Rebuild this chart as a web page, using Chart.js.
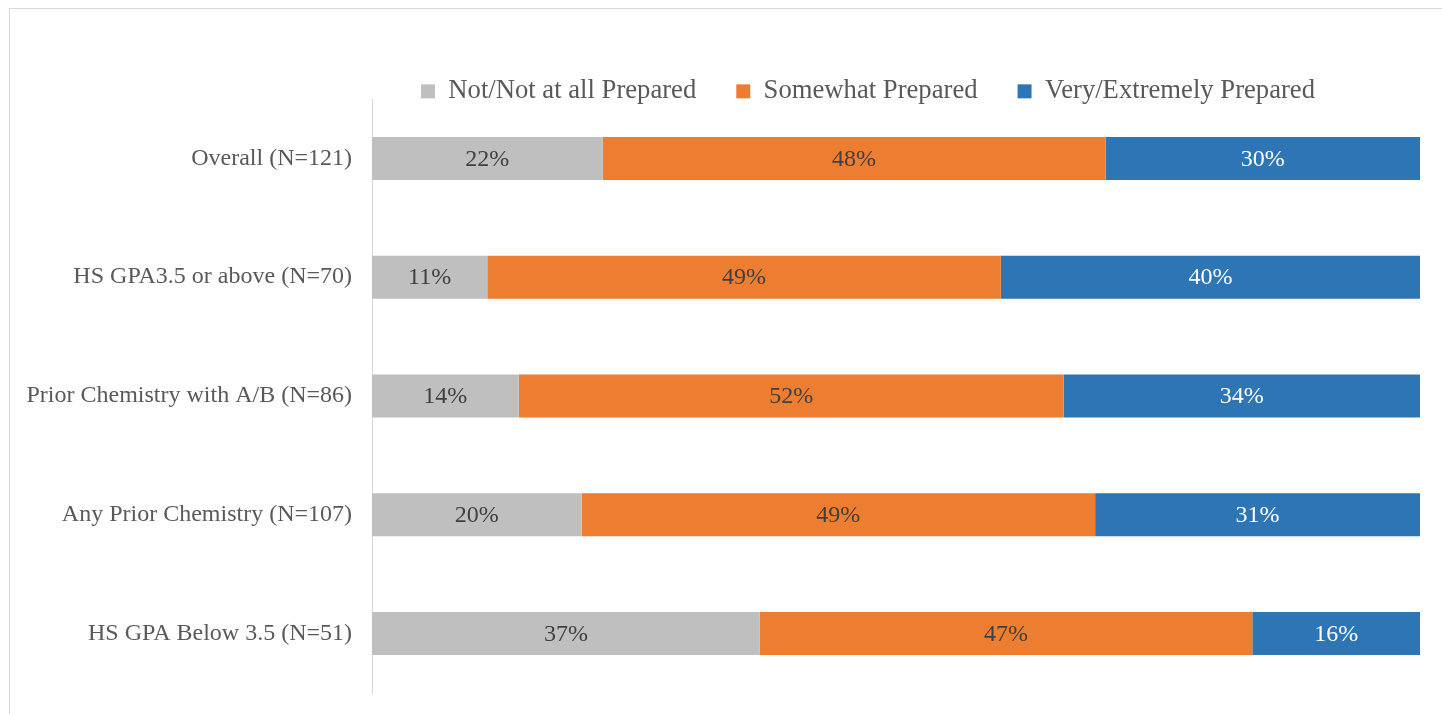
<!DOCTYPE html>
<html>
<head>
<meta charset="utf-8">
<script src="https://cdn.jsdelivr.net/npm/chart.js@4"></script>
<style>
  html, body { margin: 0; padding: 0; background: #fff; overflow: hidden; }
  #frame { position: absolute; left: 9px; top: 8px; width: 1440px; height: 714px; border: 1px solid #d9d9d9; }
  #wrap { position: absolute; left: 0; top: 0; width: 1440px; height: 714px; }
</style>
</head>
<body>
<div id="frame"><div id="wrap"><canvas id="chart"></canvas></div></div>
<script>
const categories = [
  'Overall (N=121)',
  'HS GPA3.5 or above (N=70)',
  'Prior Chemistry with A/B (N=86)',
  'Any Prior Chemistry (N=107)',
  'HS GPA Below 3.5 (N=51)'
];
const seriesNames = ['Not/Not at all Prepared', 'Somewhat Prepared', 'Very/Extremely Prepared'];
const notPrepared = [22, 11, 14, 20, 37];
const somewhatPrepared = [48, 49, 52, 49, 47];
const veryPrepared = [30, 40, 34, 31, 16];

const FONT = "'Liberation Serif', 'Times New Roman', serif";
const colors = ['#bfbfbf', '#ed7d31', '#2e75b6'];
const labelColors = ['#404040', '#404040', '#ffffff'];

// draws the percentage inside each bar segment
const barLabels = {
  id: 'barLabels',
  afterDatasetsDraw(chart) {
    const ctx = chart.ctx;
    ctx.save();
    ctx.font = '24px ' + FONT;
    ctx.textAlign = 'center';
    ctx.textBaseline = 'middle';
    chart.data.datasets.forEach((ds, i) => {
      ctx.fillStyle = labelColors[i];
      chart.getDatasetMeta(i).data.forEach((bar, j) => {
        ctx.fillText(ds.data[j] + '%', (bar.x + bar.base) / 2, bar.y + 1);
      });
    });
    ctx.restore();
  }
};

// legend: fixed height, centred where the original sits
const legendPlace = {
  id: 'legendPlace',
  beforeInit(chart) {
    const fit = chart.legend.fit;
    chart.legend.fit = function () { fit.call(this); this.height = 61; };
  },
  afterLayout(chart) {
    const lg = chart.legend;
    const w = lg.right - lg.left;
    lg.left = 858 - w / 2;
    lg.right = 858 + w / 2;
    lg.bottom = lg.top + 90; // let descenders overhang the plot top
  }
};

new Chart(document.getElementById('chart'), {
  type: 'bar',
  data: {
    labels: categories,
    datasets: [
      { label: seriesNames[0], data: notPrepared, backgroundColor: colors[0] },
      { label: seriesNames[1], data: somewhatPrepared, backgroundColor: colors[1] },
      { label: seriesNames[2], data: veryPrepared, backgroundColor: colors[2] }
    ]
  },
  options: {
    indexAxis: 'y',
    responsive: true,
    maintainAspectRatio: false,
    animation: false,
    datasets: { bar: { barPercentage: 0.362, categoryPercentage: 1 } },
    layout: { padding: { top: 29, right: 30, bottom: 30, left: 0 } },
    plugins: {
      tooltip: { enabled: false },
      legend: {
        position: 'top',
        labels: { boxWidth: 14, boxHeight: 14, padding: 40, color: '#595959', font: { family: FONT, size: 26.67 } }
      }
    },
    scales: {
      x: { stacked: true, min: 0, max: 100, display: false },
      y: {
        stacked: true,
        grid: { display: false },
        border: { display: true, color: '#d9d9d9', width: 1 },
        ticks: { color: '#595959', padding: 12, font: { family: FONT, size: 24 } },
        afterFit(scale) { scale.width = 362; }
      }
    }
  },
  plugins: [barLabels, legendPlace]
});
</script>
</body>
</html>
